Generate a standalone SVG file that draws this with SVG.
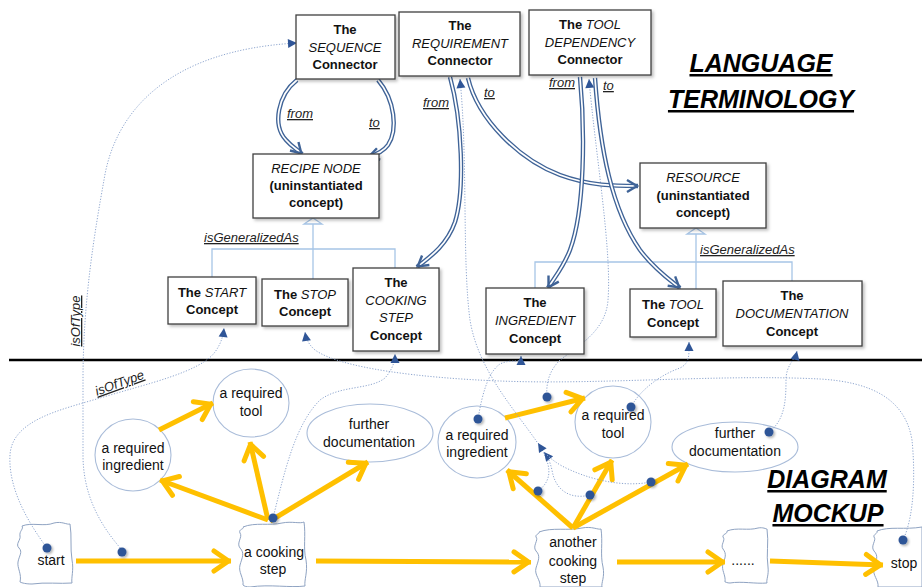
<svg xmlns="http://www.w3.org/2000/svg" width="922" height="587" viewBox="0 0 922 587">
<style>
text{font-family:"Liberation Sans",Arial,sans-serif;fill:#111}
.bx{fill:#fff;stroke:#404040;stroke-width:1.3}
.b{font-weight:bold;font-size:13px}
.i{font-style:italic;font-weight:normal}
.lbl{font-style:italic;font-size:13px;text-decoration:underline;fill:#222}
.t14{font-size:14px}
.ttl{font-weight:bold;font-style:italic;font-size:25px;text-decoration:underline;fill:#000}
.ell{fill:none;stroke:#A9BCD9;stroke-width:1.1}
.cl{fill:#fff;stroke:#8FA3C2;stroke-width:1}
.ya{fill:none;stroke:#FFC000;stroke-width:5;marker-end:url(#ya)}
.dt{fill:none;stroke:#8EA6CF;stroke-width:1;stroke-dasharray:1.2 1.6;marker-end:url(#ta)}
.dtn{fill:none;stroke:#8EA6CF;stroke-width:1;stroke-dasharray:1.2 1.6}
.gen{fill:none;stroke:#A7C5E6;stroke-width:1.3}
.dbo{fill:none;stroke:#3F6397;stroke-width:4.4}
.dbi{fill:none;stroke:#fff;stroke-width:1.7}
.dbh{fill:none;stroke:none;marker-end:url(#ba)}
.dot{fill:#2F5597;filter:url(#sh)}
</style>
<defs>
<filter id="sh" x="-30%" y="-30%" width="160%" height="160%"><feDropShadow dx="1.5" dy="1.5" stdDeviation="1" flood-color="#000" flood-opacity="0.3"/></filter>
<filter id="bsh" x="-10%" y="-10%" width="130%" height="130%"><feDropShadow dx="2" dy="2" stdDeviation="1.5" flood-color="#000" flood-opacity="0.25"/></filter>
<marker id="ya" markerUnits="userSpaceOnUse" markerWidth="40" markerHeight="40" viewBox="-20 -20 40 40" refX="0" refY="0" orient="auto" overflow="visible"><path d="M-17,-10 L-2.5,0 L-17,10" fill="none" stroke="#FFC000" stroke-width="5" stroke-linecap="round" stroke-linejoin="round"/></marker>
<marker id="ba" markerUnits="userSpaceOnUse" markerWidth="30" markerHeight="30" viewBox="-15 -15 30 30" refX="0" refY="0" orient="auto" overflow="visible"><path d="M-11,-6 L-1,0 L-11,6" fill="none" stroke="#3F6397" stroke-width="2.4" stroke-linejoin="miter"/></marker>
<marker id="ta" markerUnits="userSpaceOnUse" markerWidth="20" markerHeight="20" viewBox="-10 -10 20 20" refX="0" refY="0" orient="auto" overflow="visible"><path d="M-9,-4.5 L0,0 L-9,4.5 Z" fill="#2F5597"/></marker>
<path id="sf" d="M297,80 C278,95 272,125 286,140 C292,147 298,150 302,154"/>
<path id="st" d="M378,80 C395,100 398,130 388,145 C383,152 375,155 368,157"/>
<path id="rf" d="M450,77 C462,120 465,190 455,222 C447,245 430,257 417,267"/>
<path id="rt" d="M468,78 C478,120 520,160 560,175 C590,186 615,186 638,186"/>
<path id="tf" d="M580,77 C585,130 585,210 570,250 C563,268 554,278 548,288"/>
<path id="tt" d="M595,78 C600,150 612,210 640,250 C655,270 670,280 680,288"/>
</defs>
<rect width="922" height="587" fill="#fff"/>

<!-- divider -->
<line x1="9" y1="360" x2="922" y2="360" stroke="#000" stroke-width="2.6"/>

<!-- titles -->
<text class="ttl" x="761" y="72" text-anchor="middle">LANGUAGE</text>
<text class="ttl" x="761" y="108" text-anchor="middle">TERMINOLOGY</text>
<text class="ttl" x="827" y="488" text-anchor="middle">DIAGRAM</text>
<text class="ttl" x="828" y="522" text-anchor="middle">MOCKUP</text>

<!-- bottom nodes -->
<g id="n-start"><path class="cl" d="M22,526 C32,522 44,527 54,523 C62,521 67,525 70,524 C72,536 70,548 72,560 C74,570 71,578 72,583 C60,584 45,582 32,584 C26,584 22,583 20,582 C22,574 17,568 18,562 C19,556 23,552 19,548 C15,544 21,540 20,536 C19,531 24,529 22,526 Z"/><text class="t14" x="51" y="565" text-anchor="middle">start</text></g>
<g id="n-cook1"><path class="cl" d="M243,527 C255,522 270,526 282,523 C292,521 300,524 304,522 C306,535 303,548 306,560 C308,572 304,580 305,586 C290,588 270,584 250,587 C246,587 244,586 243,585 C244,578 238,572 240,565 C242,558 245,553 240,548 C236,543 243,537 240,533 C238,529 245,529 243,527 Z"/><text class="t14" x="274" y="557" text-anchor="middle">a cooking</text><text class="t14" x="273" y="574" text-anchor="middle">step</text></g>
<g id="n-cook2"><path class="cl" d="M539,532 C552,527 568,531 582,528 C592,526 598,530 601,529 C603,542 600,555 603,567 C605,577 601,583 602,587 L540,587 C541,580 534,575 536,568 C538,561 541,556 536,551 C532,546 539,540 536,537 C535,534 540,534 539,532 Z"/><text class="t14" x="573" y="547" text-anchor="middle">another</text><text class="t14" x="573" y="566" text-anchor="middle">cooking</text><text class="t14" x="573" y="583" text-anchor="middle">step</text></g>
<g id="n-dots"><path class="cl" d="M727,531 C737,527 748,531 758,528 C763,527 766,529 767,529 C769,542 766,555 768,567 C769,575 766,580 767,583 C755,584 742,581 730,583 C727,583 726,582 725,582 C726,575 721,570 723,564 C725,558 727,554 723,549 C720,545 726,540 723,537 C722,534 728,534 727,531 Z"/><text class="t14" x="743" y="565" text-anchor="middle">......</text></g>
<g id="n-stop"><path class="cl" d="M877,531 C889,526 905,530 922,527 L922,587 L878,587 C879,580 872,575 874,568 C876,561 879,556 874,551 C870,546 877,540 874,537 C873,534 878,534 877,531 Z"/><text class="t14" x="904" y="568" text-anchor="middle">stop</text></g>
<g id="n-ing1"><ellipse class="ell" cx="133" cy="455" rx="38" ry="36"/><text class="t14" x="133" y="453" text-anchor="middle">a required</text><text class="t14" x="133" y="470" text-anchor="middle">ingredient</text></g>
<g id="n-tool1"><ellipse class="ell" cx="251" cy="403" rx="38" ry="34"/><text class="t14" x="251" y="398" text-anchor="middle">a required</text><text class="t14" x="251" y="416" text-anchor="middle">tool</text></g>
<g id="n-doc1"><ellipse class="ell" cx="370" cy="433" rx="63" ry="29"/><text class="t14" x="369" y="429" text-anchor="middle">further</text><text class="t14" x="369" y="447" text-anchor="middle">documentation</text></g>
<g id="n-ing2"><ellipse class="ell" cx="477" cy="442" rx="39" ry="36"/><text class="t14" x="477" y="440" text-anchor="middle">a required</text><text class="t14" x="477" y="457" text-anchor="middle">ingredient</text></g>
<g id="n-tool2"><ellipse class="ell" cx="613" cy="422" rx="38" ry="36"/><text class="t14" x="613" y="420" text-anchor="middle">a required</text><text class="t14" x="613" y="438" text-anchor="middle">tool</text></g>
<g id="n-doc2"><ellipse class="ell" cx="735" cy="447" rx="63" ry="25"/><text class="t14" x="735" y="438" text-anchor="middle">further</text><text class="t14" x="735" y="456" text-anchor="middle">documentation</text></g>

<!-- connectors -->
<g id="connectors">
<!-- generalization -->
<path class="gen" d="M313,224 V279 M212,277 V249 H395 V268"/>
<path d="M313,218 L322,224 L304,224 Z" fill="#fff" stroke="#A7C5E6" stroke-width="1.3"/>
<path class="gen" d="M696,234 V289 M535,288 V262 H792 V281"/>
<path d="M696,228 L705,234 L687,234 Z" fill="#fff" stroke="#A7C5E6" stroke-width="1.3"/>
<text class="lbl" x="204" y="242">isGeneralizedAs</text>
<text class="lbl" x="700" y="254">isGeneralizedAs</text>

<!-- yellow arrows -->
<path class="ya" d="M76,561 L231,561"/>
<path class="ya" d="M316,561 L531,562"/>
<path class="ya" d="M617,562 L725,562"/>
<path class="ya" d="M770,561 L883,565"/>
<path class="ya" d="M268,520 L160,480"/>
<path class="ya" d="M268,520 L250,442"/>
<path class="ya" d="M270,521 L368,462"/>
<path class="ya" d="M159,430 L213,403"/>
<path class="ya" d="M573,528 L507,470"/>
<path class="ya" d="M573,528 L612,460"/>
<path class="ya" d="M573,528 L688,464"/>
<path class="ya" d="M505,418 L585,398"/>

<!-- dotted instance links -->
<path class="dt" d="M47,548 C30,525 8,490 10,455 C12,420 60,410 100,398 C150,383 200,372 215,352 C220,345 223,338 224,328"/>
<path class="dt" d="M122,550 C100,525 83,495 83,455 L83,380 C83,300 95,230 104,180 C115,110 170,50 297,43"/>
<path class="dt" d="M273,518 C285,470 295,425 320,400 C340,385 370,390 385,378 C392,370 395,362 395,354"/>
<path class="dt" d="M903,540 C915,515 915,470 912,440 C905,398 870,382 820,379 C720,374 600,385 500,381 C420,378 340,368 315,350 C308,344 306,338 305,332"/>
<path class="dt" d="M478,419 C482,395 488,372 500,364 C512,358 521,365 521,356"/>
<path class="dt" d="M631,407 C640,390 660,375 680,368 C690,363 689,355 689,342"/>
<path class="dt" d="M769,432 C785,420 786,400 786,380 C786,365 795,360 797,351"/>
<path class="dt" d="M537,442 C515,410 478,370 470,320 C462,260 468,160 460,79"/>
<path class="dt" d="M538,491 C553,480 552,465 538,443"/>
<path class="dt" d="M590,495 C570,500 555,490 552,470 C550,462 548,457 544,452"/>
<path class="dtn" d="M651,482 C620,488 585,478 562,466 C555,462 550,458 546,454"/>
<path class="dt" d="M547,397 C546,385 548,372 560,360 C580,345 606,330 608,300 C612,250 595,150 589,79"/>
<text class="lbl" transform="translate(80,321) rotate(-90)" text-anchor="middle">isOfType</text>
<text class="lbl" transform="translate(121,387) rotate(-20)" text-anchor="middle">isOfType</text>

<!-- double-line connector references -->
<use href="#sf" class="dbo"/><use href="#sf" class="dbi"/><use href="#sf" class="dbh"/>
<use href="#st" class="dbo"/><use href="#st" class="dbi"/><use href="#st" class="dbh"/>
<use href="#rf" class="dbo"/><use href="#rf" class="dbi"/><use href="#rf" class="dbh"/>
<use href="#rt" class="dbo"/><use href="#rt" class="dbi"/><use href="#rt" class="dbh"/>
<use href="#tf" class="dbo"/><use href="#tf" class="dbi"/><use href="#tf" class="dbh"/>
<use href="#tt" class="dbo"/><use href="#tt" class="dbi"/><use href="#tt" class="dbh"/>
<text class="lbl" x="287" y="118">from</text>
<text class="lbl" x="369" y="127">to</text>
<text class="lbl" x="423" y="107">from</text>
<text class="lbl" x="484" y="97">to</text>
<text class="lbl" x="549" y="87">from</text>
<text class="lbl" x="603" y="90">to</text>

<!-- anchor dots -->
<circle class="dot" cx="47" cy="548" r="4.5"/>
<circle class="dot" cx="122" cy="552" r="4.5"/>
<circle class="dot" cx="273" cy="518" r="4.5"/>
<circle class="dot" cx="478" cy="419" r="4.5"/>
<circle class="dot" cx="547" cy="397" r="4.5"/>
<circle class="dot" cx="631" cy="407" r="4.5"/>
<circle class="dot" cx="769" cy="432" r="4.5"/>
<circle class="dot" cx="538" cy="491" r="4.5"/>
<circle class="dot" cx="590" cy="495" r="4.5"/>
<circle class="dot" cx="651" cy="482" r="4.5"/>
<circle class="dot" cx="903" cy="540" r="4.5"/>
</g>

<!-- top nodes -->
<g id="n-seq"><rect class="bx" x="296" y="15" width="99" height="64" filter="url(#bsh)"/><text class="b" x="345" y="34" text-anchor="middle">The</text><text class="b i" x="345" y="52" text-anchor="middle">SEQUENCE</text><text class="b" x="345" y="69" text-anchor="middle">Connector</text></g>
<g id="n-req"><rect class="bx" x="399" y="12" width="121" height="64" filter="url(#bsh)"/><text class="b" x="460" y="30" text-anchor="middle">The</text><text class="b i" x="460" y="48" text-anchor="middle">REQUIREMENT</text><text class="b" x="460" y="65" text-anchor="middle">Connector</text></g>
<g id="n-tdep"><rect class="bx" x="529" y="10" width="122" height="65" filter="url(#bsh)"/><text class="b" x="590" y="29" text-anchor="middle">The <tspan class="i">TOOL</tspan></text><text class="b i" x="590" y="47" text-anchor="middle">DEPENDENCY</text><text class="b" x="590" y="64" text-anchor="middle">Connector</text></g>
<g id="n-recipe"><rect class="bx" x="253" y="154" width="126" height="64" filter="url(#bsh)"/><text class="b i" x="316" y="173" text-anchor="middle">RECIPE NODE</text><text class="b" x="316" y="190" text-anchor="middle">(uninstantiated</text><text class="b" x="316" y="207" text-anchor="middle">concept)</text></g>
<g id="n-resource"><rect class="bx" x="640" y="163" width="126" height="65" filter="url(#bsh)"/><text class="b i" x="703" y="182" text-anchor="middle">RESOURCE</text><text class="b" x="703" y="200" text-anchor="middle">(uninstantiated</text><text class="b" x="703" y="217" text-anchor="middle">concept)</text></g>
<g id="n-startc"><rect class="bx" x="168" y="277" width="88" height="47" filter="url(#bsh)"/><text class="b" x="212" y="297" text-anchor="middle">The <tspan class="i">START</tspan></text><text class="b" x="212" y="314" text-anchor="middle">Concept</text></g>
<g id="n-stopc"><rect class="bx" x="262" y="279" width="86" height="47" filter="url(#bsh)"/><text class="b" x="305" y="299" text-anchor="middle">The <tspan class="i">STOP</tspan></text><text class="b" x="305" y="316" text-anchor="middle">Concept</text></g>
<g id="n-cookc"><rect class="bx" x="353" y="268" width="86" height="83" filter="url(#bsh)"/><text class="b" x="396" y="287" text-anchor="middle">The</text><text class="b i" x="396" y="305" text-anchor="middle">COOKING</text><text class="b i" x="396" y="322" text-anchor="middle">STEP</text><text class="b" x="396" y="340" text-anchor="middle">Concept</text></g>
<g id="n-ingc"><rect class="bx" x="486" y="288" width="98" height="66" filter="url(#bsh)"/><text class="b" x="535" y="307" text-anchor="middle">The</text><text class="b i" x="535" y="325" text-anchor="middle">INGREDIENT</text><text class="b" x="535" y="343" text-anchor="middle">Concept</text></g>
<g id="n-toolc"><rect class="bx" x="630" y="289" width="86" height="48" filter="url(#bsh)"/><text class="b" x="673" y="309" text-anchor="middle">The <tspan class="i">TOOL</tspan></text><text class="b" x="673" y="327" text-anchor="middle">Concept</text></g>
<g id="n-docc"><rect class="bx" x="723" y="281" width="139" height="65" filter="url(#bsh)"/><text class="b" x="792" y="300" text-anchor="middle">The</text><text class="b i" x="792" y="318" text-anchor="middle">DOCUMENTATION</text><text class="b" x="792" y="336" text-anchor="middle">Concept</text></g>
</svg>
